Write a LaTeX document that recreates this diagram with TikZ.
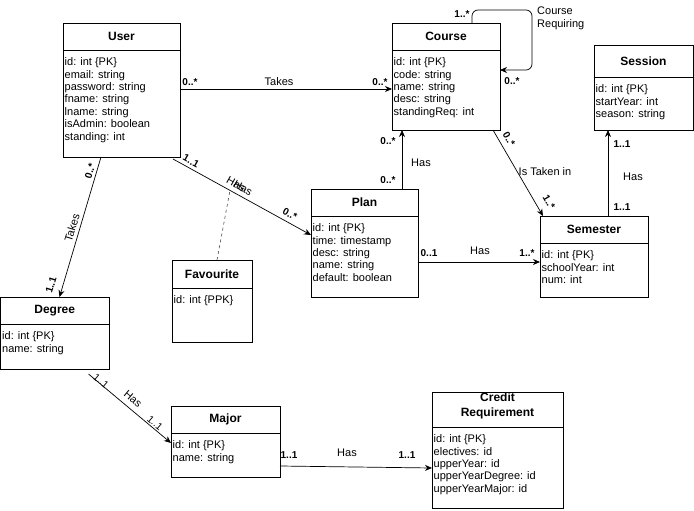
\documentclass[tikz,border=0pt]{standalone}
\usepackage{fontspec}
\setmainfont{Liberation Sans}
\usetikzlibrary{arrows.meta,calc}
\begin{document}
\begin{tikzpicture}[x=1pt,y=-1pt,
 box/.style={draw=black,line width=0.8pt,inner sep=0,outer sep=0,anchor=north west},
 hdr/.style={font=\fontsize{12}{15}\selectfont\bfseries,inner sep=0,align=center},
 attr/.style={font=\fontsize{11}{12.4}\selectfont,inner sep=0,anchor=north west,align=left},
 lbl/.style={font=\fontsize{11}{13}\selectfont,inner sep=0},
 mult/.style={font=\fontsize{10}{12}\selectfont\bfseries,inner sep=0},
 conn/.style={draw=black,line width=0.7pt},
 arr/.style={conn,-{Stealth[length=7pt,width=6pt]}},
]
\useasboundingbox (0,0) rectangle (694,511);

% ---------- classes ----------
\node[box,minimum width=117pt,minimum height=134pt] (user) at (63,23) {};
\draw[conn] ($(user.north west)+(0,27)$) -- ($(user.north east)+(0,27)$);
\node[hdr] (userH) at ($(user.north)+(0,13.5)$) {User};
\node[attr] (userA) at ($(user.north west)+(1.5,34.5)$) {id: int \{PK\}\\email: string\\password: string\\fname: string\\lname: string\\isAdmin: boolean\\standing: int};

\node[box,minimum width=108pt,minimum height=107pt] (course) at (392,23) {};
\draw[conn] ($(course.north west)+(0,27)$) -- ($(course.north east)+(0,27)$);
\node[hdr] (courseH) at ($(course.north)+(0,13.5)$) {Course};
\node[attr] (courseA) at ($(course.north west)+(1.5,34.5)$) {id: int \{PK\}\\code: string\\name: string\\desc: string\\standingReq: int};

\node[box,minimum width=99pt,minimum height=85pt] (session) at (594,45) {};
\draw[conn] ($(session.north west)+(0,32)$) -- ($(session.north east)+(0,32)$);
\node[hdr] (sessionH) at ($(session.north)+(0,16)$) {Session};
\node[attr] (sessionA) at ($(session.north west)+(1.5,39.5)$) {id: int \{PK\}\\startYear: int\\season: string};

\node[box,minimum width=108pt,minimum height=81pt] (semester) at (540,216) {};
\draw[conn] ($(semester.north west)+(0,27)$) -- ($(semester.north east)+(0,27)$);
\node[hdr] (semesterH) at ($(semester.north)+(0,13.5)$) {Semester};
\node[attr] (semesterA) at ($(semester.north west)+(1.5,34.5)$) {id: int \{PK\}\\schoolYear: int\\num: int};

\node[box,minimum width=107pt,minimum height=108pt] (plan) at (311,189) {};
\draw[conn] ($(plan.north west)+(0,27)$) -- ($(plan.north east)+(0,27)$);
\node[hdr] (planH) at ($(plan.north)+(0,13.5)$) {Plan};
\node[attr] (planA) at ($(plan.north west)+(1.5,34.5)$) {id: int \{PK\}\\time: timestamp\\desc: string\\name: string\\default: boolean};

\node[box,minimum width=80pt,minimum height=82pt] (fav) at (172,260) {};
\draw[conn] ($(fav.north west)+(0,28)$) -- ($(fav.north east)+(0,28)$);
\node[hdr] (favH) at ($(fav.north)+(0,14)$) {Favourite};
\node[attr] (favA) at ($(fav.north west)+(1.5,35.5)$) {id: int \{PPK\}};

\node[box,minimum width=108.5pt,minimum height=72pt] (degree) at (0.5,297) {};
\draw[conn] ($(degree.north west)+(0,27)$) -- ($(degree.north east)+(0,27)$);
\node[hdr] (degreeH) at ($(degree.north)+(0,13.5)$) {Degree};
\node[attr] (degreeA) at ($(degree.north west)+(1.5,34.5)$) {id: int \{PK\}\\name: string};

\node[box,minimum width=109pt,minimum height=71pt] (major) at (171,406) {};
\draw[conn] ($(major.north west)+(0,27)$) -- ($(major.north east)+(0,27)$);
\node[hdr] (majorH) at ($(major.north)+(0,13.5)$) {Major};
\node[attr] (majorA) at ($(major.north west)+(1.5,34.5)$) {id: int \{PK\}\\name: string};

\node[box,minimum width=131pt,minimum height=116pt] (credit) at (432,392) {};
\draw[conn] ($(credit.north west)+(0,35)$) -- ($(credit.north east)+(0,35)$);
\node[hdr] (creditH) at ($(credit.north)+(0,14)$) {Credit\\Requirement};
\node[attr] (creditA) at ($(credit.north west)+(1.5,42.5)$) {id: int \{PK\}\\electives: id\\upperYear: id\\upperYearDegree: id\\upperYearMajor: id};

% ---------- connectors ----------
% User -> Course
\draw[arr] ($(user.north east)+(0,66)$) -- ($(course.north west)+(0,66)$);
\node[mult] (m1) at (190,82) {0..*};
\node[lbl] (l1) at (279,82) {Takes};
\node[mult] (m2) at (380,82) {0..*};

% Course self loop
\draw[arr,rounded corners=6pt] ($(course.north west)+(80,0)$) -- (472,10) -- (532,10) -- (532,70) -- ($(course.north east)+(0,47)$);
\node[lbl,align=left,anchor=west,font=\fontsize{11}{13}\selectfont] (l2) at (537,18.5) {Course\\Requiring};
\node[mult] (m3) at (462,14) {1..*};
\node[mult] (m4) at (512,81) {0..*};

% Plan -> Course
\draw[arr] ($(plan.north west)+(91,0)$) -- ($(course.south west)+(10,0)$);
\node[mult] (m5) at (388,141) {0..*};
\node[lbl] (l3) at (421,163) {Has};
\node[mult] (m6) at (388,180) {0..*};

% Course -> Semester
\draw[arr] ($(course.south west)+(101,0)$) -- ($(semester.north west)+(3,0)$);
\node[mult,rotate=-60] (m7) at (509,139) {0..*};
\node[lbl] (l4) at (545,172) {Is Taken in};
\node[mult,rotate=-60] (m8) at (549,202) {1..*};

% Plan -> Semester
\draw[arr] ($(plan.north east)+(0,73)$) -- ($(semester.north west)+(0,46)$);
\node[mult] (m9) at (429,253) {0..1};
\node[lbl] (l5) at (480,251) {Has};
\node[mult] (m10) at (527,253) {1..*};

% Semester -> Session
\draw[arr] ($(semester.north west)+(68,0)$) -- ($(session.south west)+(14,0)$);
\node[mult] (m11) at (622,144) {1..1};
\node[lbl] (l6) at (633,177) {Has};
\node[mult] (m12) at (622,207) {1..1};

% User -> Plan
\coordinate (upA) at ($(user.south east)+(-7,2)$);
\coordinate (upB) at ($(plan.north west)+(0,46)$);
\draw[arr] (upA) -- (upB);
\coordinate (favJ) at ($(upA)!0.413!(upB)$);
\draw[conn,dashed,line width=0.6pt,draw=black!70] ($(fav.north west)+(45,0)$) -- (favJ);
\node[mult,rotate=-29] (m13) at (191,161) {1..1};
\node[lbl,rotate=-29] (l7) at (236,184) {Has};
\node[lbl,rotate=-29] (l8) at (243,188) {Has};
\node[mult,rotate=-29] (m14) at (290,214) {0..*};

% User -> Degree
\draw[arr] ($(user.south west)+(38,0)$) -- ($(degree.north west)+(59,0)$);
\node[mult,rotate=73] (m15) at (90,171) {0..*};
\node[lbl,rotate=73] (l9) at (72,228) {Takes};
\node[mult,rotate=73] (m16) at (51,285) {1..1};

% Degree -> Major
\draw[arr] ($(degree.south west)+(88,5)$) -- ($(major.north west)+(0,37)$);
\node[mult,rotate=-40,font=\fontsize{10}{12}\selectfont] (m17) at (101,381) {1..1};
\node[lbl,rotate=-40] (l10) at (133,399) {Has};
\node[mult,rotate=-40,font=\fontsize{10}{12}\selectfont] (m18) at (155,423) {1..1};

% Major -> Credit Requirement
\draw[arr] ($(major.north east)+(0,60)$) -- ($(credit.north west)+(0,76)$);
\node[mult] (m19) at (289,455) {1..1};
\node[lbl] (l11) at (347,453) {Has};
\node[mult] (m20) at (407,455) {1..1};
\end{tikzpicture}
\end{document}
